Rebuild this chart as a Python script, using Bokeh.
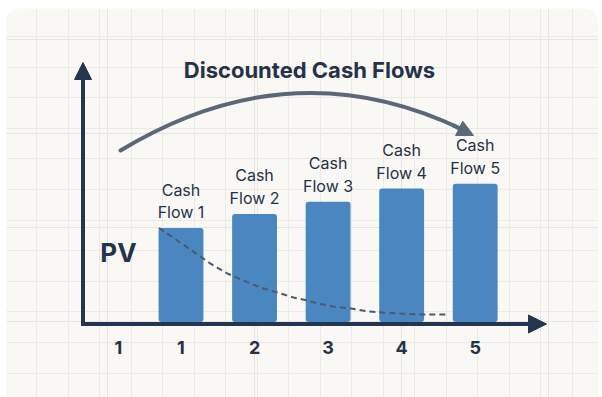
import numpy as np
from bokeh.plotting import figure
from bokeh.models import Range1d, Grid, FixedTicker, Arrow, NormalHead, ColumnDataSource
from bokeh.core.properties import value
from bokeh.embed import file_html
from bokeh.resources import INLINE

# ---- data ----
periods = [1, 2, 3, 4, 5]
cash_flows = [100, 115, 128, 142, 147]
bar_labels = ["Cash\nFlow 1", "Cash\nFlow 2", "Cash\nFlow 3", "Cash\nFlow 4", "Cash\nFlow 5"]
tick_positions = [0.15, 1, 2, 3, 4, 5]
tick_labels = ["1", "1", "2", "3", "4", "5"]
# dashed present-value decay curve (period, value)
pv_curve_x = [0.70, 0.99, 1.40, 1.63, 1.85, 2.08, 2.31, 2.53, 2.72, 2.86,
              3.07, 3.31, 3.54, 3.75, 3.98, 4.22, 4.62]
pv_curve_y = [100, 84.6, 62.2, 51.6, 44.1, 36.7, 31.4, 26.1, 22.9, 19.7,
              16.5, 14.4, 11.2, 10.1, 9.0, 8.0, 8.0]
title_text = "Discounted Cash Flows"
pv_text = "PV"

# ---- styles ----
BG = "#f9f8f5"
GRID = "#eceae5"
BAR = "#4a86bf"
AXIS = "#23354f"
ARC = "#5a6878"
DASH = "#4b5a6c"
TXT = "#243247"
FONT = value("Inter")

W, H = 592, 389

p = figure(width=W, height=H,
           x_range=Range1d(-1.3726, 6.6764), y_range=Range1d(-80.32, 333.51),
           output_backend="svg", toolbar_location=None,
           x_axis_location=None, y_axis_location=None, min_border=0,
           background_fill_color=BG, border_fill_color=BG, outline_line_color=None)
p.styles = {"margin-left": "6px", "margin-top": "8px",
            "border-radius": "14px 14px 0 0", "overflow": "hidden"}
p.extra_x_ranges = {"px": Range1d(0, W)}
p.extra_y_ranges = {"px": Range1d(0, H)}


def X(px):
    return px - 6


def Y(py):
    return 397 - py


# background grid (decorative)
vticks = [float(X(36) + 31.5 * k) for k in range(-1, 19)]
hticks = [float(Y(36) - 30.6 * k) for k in range(0, 12)]
p.add_layout(Grid(dimension=0, ticker=FixedTicker(ticks=vticks), x_range_name="px",
                  grid_line_color=GRID, grid_line_width=1))
p.add_layout(Grid(dimension=1, ticker=FixedTicker(ticks=hticks), y_range_name="px",
                  grid_line_color=GRID, grid_line_width=1))

# bars
src = ColumnDataSource(dict(x=periods, top=cash_flows, label=bar_labels))
p.vbar(x="x", top="top", bottom=0, width=0.61, source=src,
       fill_color=BAR, line_color=None, border_radius=3)
p.text(x="x", y="top", text="label", source=src, text_align="center",
       text_baseline="bottom", y_offset=-6, text_font=FONT, text_font_size="16px",
       text_color=TXT, text_line_height=1.12)

# dashed PV curve
p.line(pv_curve_x, pv_curve_y, line_dash="6 4", line_width=2, line_color=DASH)

# curved arrow
p.quadratic(x0=[X(120)], y0=[Y(150)], x1=[X(462)], y1=[Y(129)],
            cx=[X(291)], cy=[Y(46.5)], x_range_name="px", y_range_name="px",
            line_color=ARC, line_width=4, line_cap="round")
p.add_layout(Arrow(x_start=X(452), y_start=Y(124.5), x_end=X(473), y_end=Y(135),
                   x_range_name="px", y_range_name="px", line_color=ARC, line_width=4,
                   end=NormalHead(size=16, fill_color=ARC, line_color=ARC, line_width=1)))

# axes with arrow heads
p.add_layout(Arrow(x_start=X(82.5), y_start=Y(325.5), x_end=X(82.5), y_end=Y(62),
                   x_range_name="px", y_range_name="px", line_color=AXIS, line_width=4,
                   end=NormalHead(size=17, fill_color=AXIS, line_color=AXIS, line_width=1)))
p.add_layout(Arrow(x_start=X(80.5), y_start=Y(323.5), x_end=X(546), y_end=Y(323.5),
                   x_range_name="px", y_range_name="px", line_color=AXIS, line_width=4,
                   end=NormalHead(size=18, fill_color=AXIS, line_color=AXIS, line_width=1)))

# tick labels
p.text(x=tick_positions, y=[Y(347)] * len(tick_labels), text=tick_labels,
       y_range_name="px", text_align="center", text_baseline="middle",
       text_font=FONT, text_font_size="18px", text_font_style="bold", text_color=TXT)

# title and PV label
p.text(x=[X(309)], y=[Y(69)], text=[title_text], x_range_name="px", y_range_name="px",
       text_align="center", text_baseline="middle", text_font=FONT,
       text_font_size="22px", text_font_style="bold", text_color="#253247")
p.text(x=[X(118)], y=[Y(252)], text=[pv_text], x_range_name="px", y_range_name="px",
       text_align="center", text_baseline="middle", text_font=FONT,
       text_font_size="26px", text_font_style="bold", text_color="#23334b")

open("out.html", "w").write(file_html(p, INLINE))
